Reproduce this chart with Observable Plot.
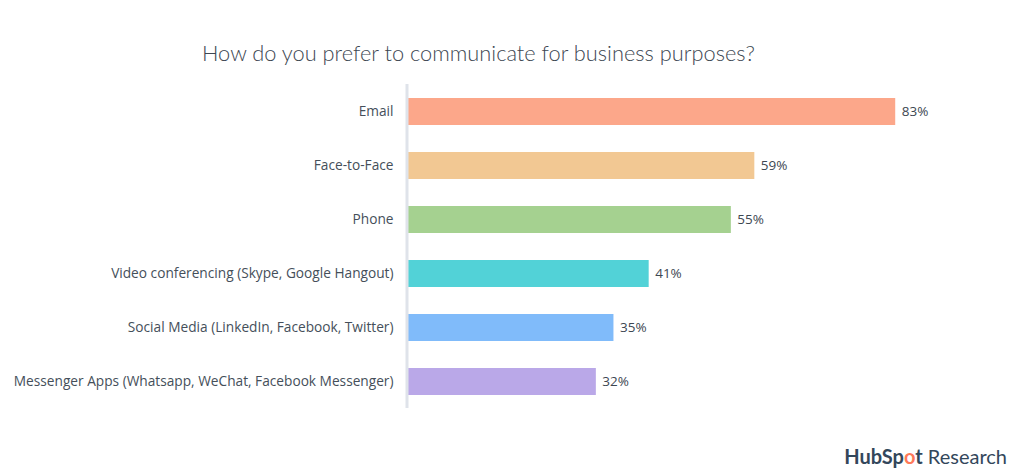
<!DOCTYPE html>
<html>
<head>
<meta charset="utf-8">
<script src="https://cdn.jsdelivr.net/npm/d3@7"></script>
<script src="https://cdn.jsdelivr.net/npm/@observablehq/plot@0.6"></script>
<style>
  html, body { margin: 0; padding: 0; background: #fff; }
  #wrap { position: relative; width: 1013px; height: 475px; overflow: hidden; font-family: Lato, "Open Sans", sans-serif; }
  #title { position: absolute; left: 202px; top: 39px; font-size: 21.8px; font-weight: 300; color: #3d4752; white-space: nowrap; }
  #chart { position: absolute; left: 0; top: 72px; }
  #logo { position: absolute; right: 6px; top: 444px; font-size: 20px; color: #33475b; white-space: nowrap; }
  #logo b { font-weight: 700; }
  #logo .o { color: #ff7a59; }
</style>
</head>
<body>
<div id="wrap">
  <div id="title">How do you prefer to communicate for business purposes?</div>
  <div id="chart"></div>
  <div id="logo"><b>HubSp<span class="o">o</span>t</b> Research</div>
</div>
<script>
const categories = [
  "Email",
  "Face-to-Face",
  "Phone",
  "Video conferencing (Skype, Google Hangout)",
  "Social Media (LinkedIn, Facebook, Twitter)",
  "Messenger Apps (Whatsapp, WeChat, Facebook Messenger)"
];
const values = [83, 59, 55, 41, 35, 32];
const colors = ["#fca78a", "#f2c893", "#a5d190", "#52d2d7", "#80bbfa", "#baa8e8"];

const data = categories.map((c, i) => ({category: c, value: values[i], color: colors[i]}));

const chart = Plot.plot({
  width: 1013,
  height: 346,
  marginLeft: 408,
  marginRight: 18,
  marginTop: 12,
  marginBottom: 10,
  style: {fontFamily: "'Open Sans', Lato, sans-serif", fontSize: "13.7px", color: "#454f5a", background: "transparent"},
  x: {domain: [0, 100], axis: null},
  y: {domain: categories, paddingInner: 0.5, paddingOuter: 0.25, label: null, tickSize: 0, tickPadding: 15},
  marks: [
    Plot.barX(data, {y: "category", x: "value", fill: "color"}),
    Plot.ruleX([0], {stroke: "#dfe3ea", strokeWidth: 3, dx: -1.5}),
    Plot.text(data, {y: "category", x: "value", text: d => d.value + "%", textAnchor: "start", dx: 6, fill: "#3d4752", fontSize: 13.5})
  ]
});
document.getElementById("chart").appendChild(chart);
</script>
</body>
</html>
